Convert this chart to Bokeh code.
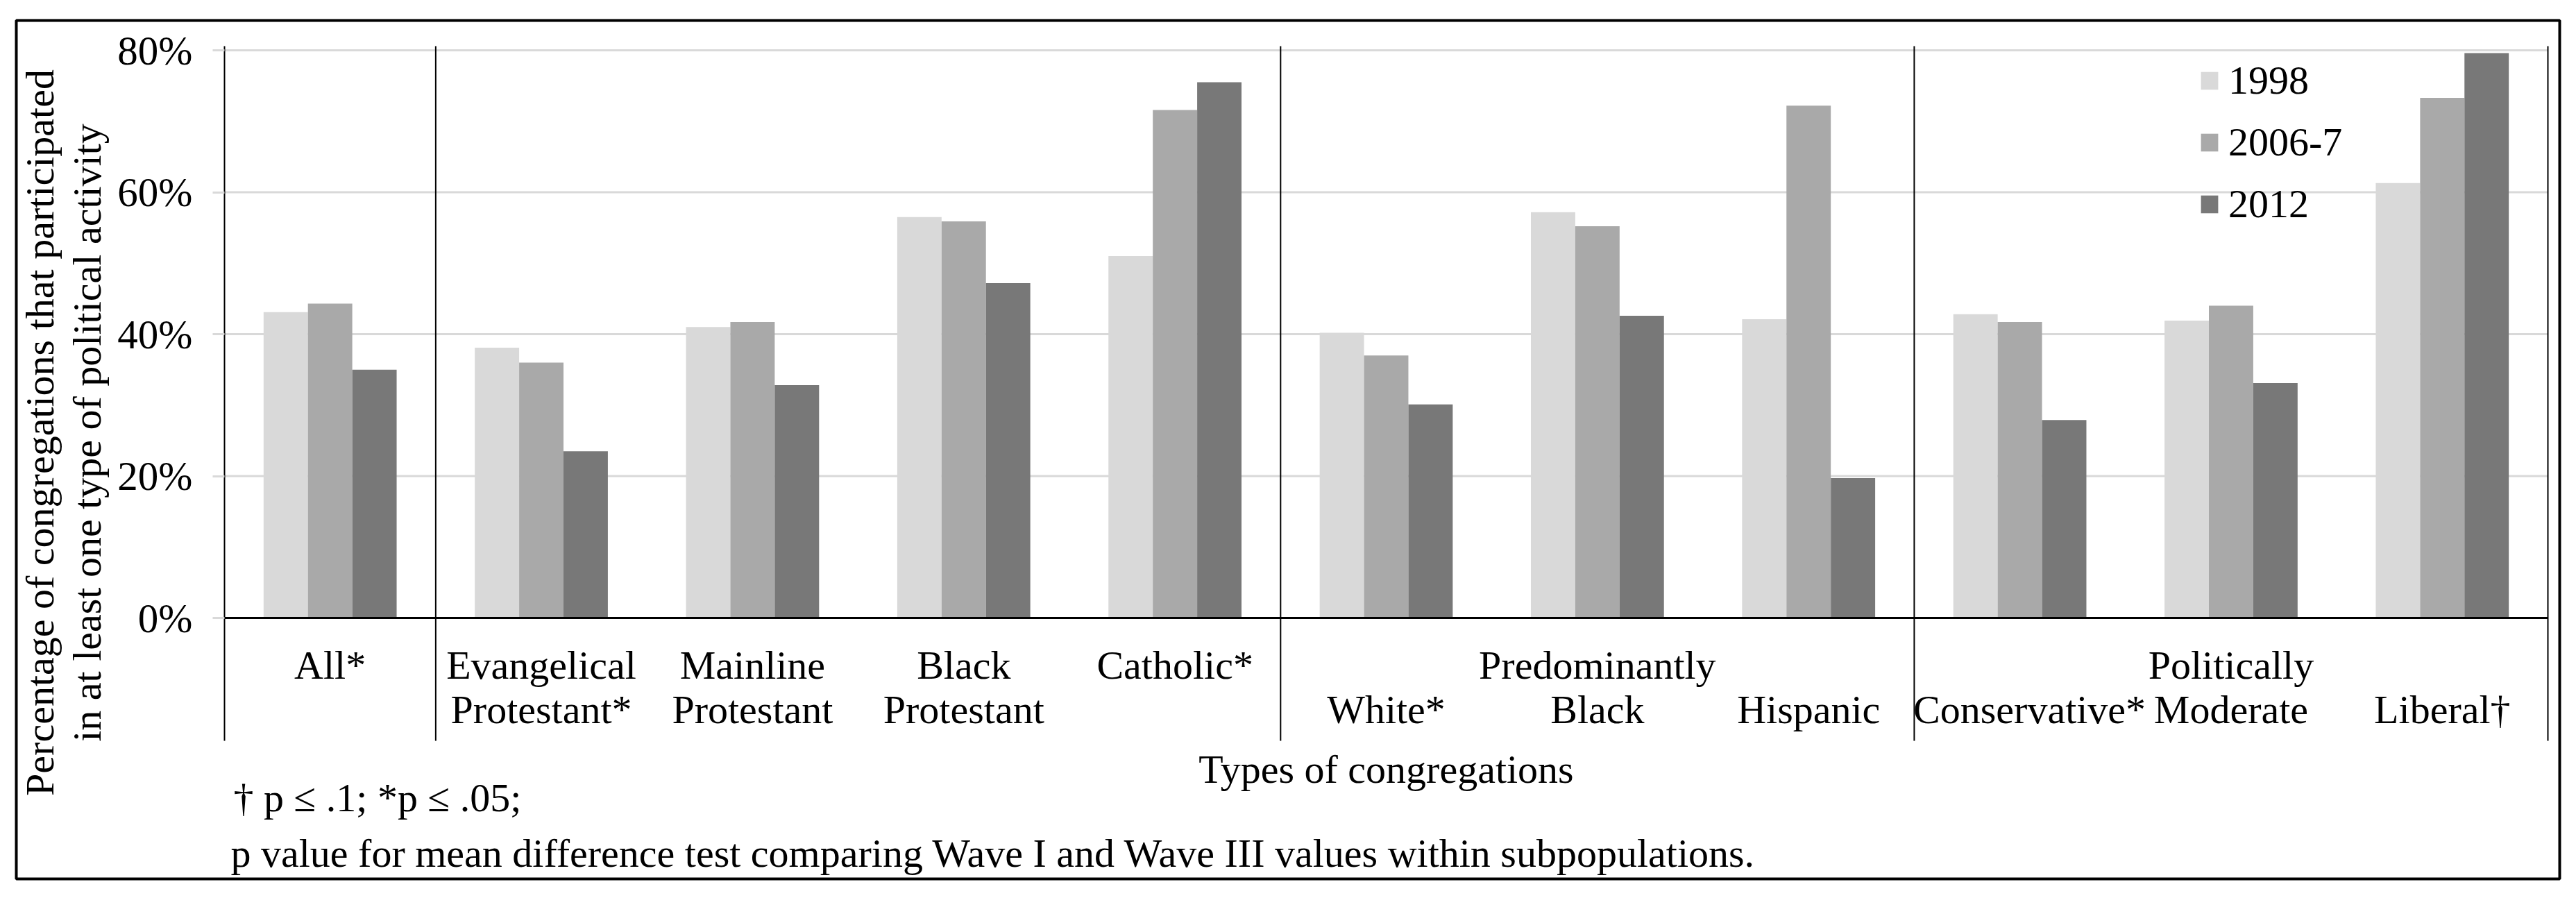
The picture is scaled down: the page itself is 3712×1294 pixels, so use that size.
from math import pi
from bokeh.plotting import figure
from bokeh.models import (Range1d, FixedTicker, PrintfTickFormatter, Label, ColumnDataSource)
from bokeh.transform import dodge
from bokeh.embed import file_html
from bokeh.resources import INLINE

# ---------------- data ----------------
categories = ["All*", "Evangelical Protestant*", "Mainline Protestant", "Black Protestant",
              "Catholic*", "Predominantly White*", "Predominantly Black", "Predominantly Hispanic",
              "Politically Conservative*", "Politically Moderate", "Politically Liberal\u2020"]
label_line1 = ["All*", "Evangelical", "Mainline", "Black", "Catholic*",
               "", "Predominantly", "", "", "Politically", ""]
label_line2 = ["", "Protestant*", "Protestant", "Protestant", "",
               "White*", "Black", "Hispanic", "Conservative*", "Moderate", "Liberal\u2020"]
series_names = ["1998", "2006-7", "2012"]
v1998 = [43.1, 38.1, 41.0, 56.5, 51.0, 40.2, 57.2, 42.1, 42.8, 41.9, 61.3]
v2006_7 = [44.3, 36.0, 41.7, 55.9, 71.6, 37.0, 55.2, 72.2, 41.7, 44.0, 73.3]
v2012 = [35.0, 23.5, 32.8, 47.2, 75.5, 30.1, 42.6, 19.7, 27.9, 33.1, 79.6]
y_ticks = [0, 20, 40, 60, 80]
group_breaks = [1, 5, 8, 11]
x_title = "Types of congregations"
y_title_1 = "Percentage of congregations that participated"
y_title_2 = "in at least one type of political activity"
note_1 = "\u2020 p \u2264 .1; *p \u2264 .05;"
note_2 = "p value for mean difference test comparing Wave I and Wave III values within subpopulations."

# ---------------- styling / layout ----------------
colors = ["#d9d9d9", "#a9a9a9", "#787878"]
FONT = "Liberation Serif"
FS = "58px"
W, H = 3712, 1294
BOX_L, BOX_R, BOX_T, BOX_B = 23, 3688, 29, 1266     # outer box = plot frame (px)
AX_L, AX_R = 323, 3671                              # category axis extent (px)
AX_T, AX_B = 66, 1067                               # separator extent (px)
ZERO_PX, TOP_PX = 890, 72                           # pixel rows of 0 % and 80 %
PX_PER_PCT = (ZERO_PX - TOP_PX) / 80.0
UNIT_X = (AX_R - AX_L) / len(categories)
FIX = 18                                            # baseline correction (px)
LABEL_NUDGE_PX = {"Conservative*": 14}              # keep text clear of the separator

def xd(px):
    return (px - AX_L) / UNIT_X

def yd(py):
    return (ZERO_PX - py) / PX_PER_PCT

p = figure(width=W, height=H,
           x_range=Range1d(xd(BOX_L), xd(BOX_R)),
           y_range=Range1d(yd(BOX_B), yd(BOX_T)),
           min_border_left=BOX_L, min_border_right=W - BOX_R,
           min_border_top=BOX_T, min_border_bottom=H - BOX_B,
           output_backend="svg", toolbar_location=None, tools="")
p.outline_line_color = "black"
p.outline_line_width = 4
p.outline_line_alpha = 1
p.background_fill_color = "white"
p.border_fill_color = "white"
p.xaxis.visible = False
p.xgrid.visible = False
p.ygrid.visible = False

n = len(categories)
cat_x = [i + 0.5 for i in range(n)]
src = ColumnDataSource(dict(cat=categories, x=cat_x, v1998=v1998, v2006_7=v2006_7, v2012=v2012))

# horizontal gridlines
p.segment(x0=[0] * len(y_ticks), x1=[n] * len(y_ticks), y0=y_ticks, y1=y_ticks,
          line_color="#d9d9d9", line_width=3)

bw = 0.21
for key, name, col, off in zip(["v1998", "v2006_7", "v2012"], series_names, colors, [-bw, 0, bw]):
    p.vbar(x=dodge("x", off), top=key, bottom=0, width=bw, source=src,
           fill_color=col, line_color=None, legend_label=name)

# y axis drawn at category-axis start
yax = p.yaxis[0]
yax.fixed_location = 0
yax.bounds = (yd(AX_B), yd(AX_T))
yax.ticker = FixedTicker(ticks=y_ticks)
yax.formatter = PrintfTickFormatter(format="%d%%")
yax.axis_line_color = "black"
yax.axis_line_width = 2
yax.major_tick_out = 17
yax.major_tick_in = 0
yax.major_tick_line_color = "#d9d9d9"
yax.major_tick_line_width = 3
yax.minor_tick_line_color = None
yax.major_label_text_font = FONT
yax.major_label_text_font_size = "59px"
yax.major_label_text_color = "black"
yax.major_label_standoff = 29

# zero line and group separators
p.segment(x0=[0], x1=[n], y0=[0], y1=[0], line_color="black", line_width=3)
p.segment(x0=group_breaks, x1=group_breaks, y0=[yd(AX_B)] * len(group_breaks),
          y1=[yd(AX_T)] * len(group_breaks), line_color="black", line_width=2)

def add_text(x, y, text, align="center", angle=0.0):
    p.add_layout(Label(x=x, y=y, text=text, text_align=align, angle=angle,
                       text_baseline="alphabetic", text_font=FONT, text_font_size=FS,
                       text_color="black"))

# category labels (baselines at 976 / 1040 px)
for xc, l1, l2 in zip(cat_x, label_line1, label_line2):
    if l1:
        add_text(xc + LABEL_NUDGE_PX.get(l1, 0) / UNIT_X, yd(976 - FIX), l1)
    if l2:
        add_text(xc + LABEL_NUDGE_PX.get(l2, 0) / UNIT_X, yd(1040 - FIX), l2)

# axis titles
add_text(n / 2, yd(1126 - FIX), x_title)
add_text(xd(75 - FIX), yd(623), y_title_1, angle=pi / 2)
add_text(xd(143 - FIX), yd(623), y_title_2, angle=pi / 2)

# notes
add_text(xd(336), yd(1167 - FIX), note_1, align="left")
add_text(xd(332), yd(1247 - FIX), note_2, align="left")

# legend
lg = p.legend[0]
lg.location = (3168 - BOX_L, BOX_B - 338)
lg.orientation = "vertical"
lg.glyph_width = 31
lg.glyph_height = 32
lg.label_height = 89
lg.spacing = 0
lg.padding = 0
lg.margin = 0
lg.label_standoff = 12
lg.label_text_font = FONT
lg.label_text_font_size = FS
lg.label_text_color = "black"
lg.border_line_color = None
lg.background_fill_alpha = 0

open("out.html", "w").write(file_html(p, INLINE))
